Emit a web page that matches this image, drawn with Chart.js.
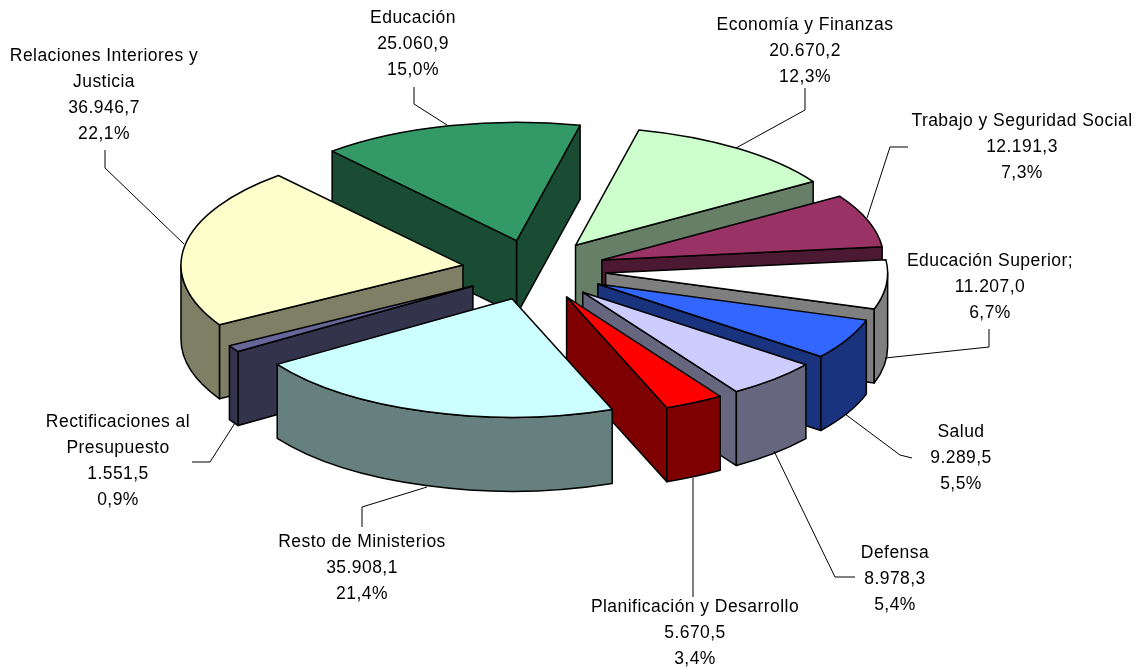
<!DOCTYPE html>
<html>
<head>
<meta charset="utf-8">
<style>
  html, body { margin: 0; padding: 0; background: #fff; }
  canvas { display: block; }
</style>
<script src="https://cdn.jsdelivr.net/npm/chart.js"></script>
</head>
<body>
<canvas id="myChart" width="1138" height="668"></canvas>
<script>
// Data, clockwise from the Economía slice
const categories = [
  ["Economía y Finanzas"],
  ["Trabajo y Seguridad Social"],
  ["Educación Superior;"],
  ["Salud"],
  ["Defensa"],
  ["Planificación y Desarrollo"],
  ["Resto de Ministerios"],
  ["Rectificaciones al", "Presupuesto"],
  ["Relaciones Interiores y", "Justicia"],
  ["Educación"]
];
const values = [20670.2, 12191.3, 11207.0, 9289.5, 8978.3, 5670.5, 35908.1, 1551.5, 36946.7, 25060.9];
const colors = ["#CCFFCC", "#993366", "#FFFFFF", "#3366FF", "#CCCCFF", "#FF0000", "#CCFFFF", "#666699", "#FFFFCC", "#339966"];

// Label layout: centre x, y of first line, leader polyline
const labelX = [805, 1022, 990, 961, 895, 695, 362, 118, 104, 413];
const labelY = [25, 121, 261, 432, 553, 607, 542, 422, 56, 18];
const leaders = [
  [[805, 88], [805, 110], [736, 148]],
  [[908, 147], [890, 147], [867, 218]],
  [[989, 329], [989, 347], [885, 358]],
  [[912, 458], [900, 455], [845, 414]],
  [[855, 577], [835, 577], [774, 451]],
  [[693, 597], [693, 478]],
  [[362, 527], [362, 507], [427, 487]],
  [[192, 462], [210, 462], [235, 423]],
  [[105, 150], [105, 168], [184, 244]],
  [[414, 87], [414, 104], [447, 125]]
];

const LINE_H = 26.2;
const SQUASH = 0.42;   // vertical tilt of the pie
const DEPTH = 74;      // height of the extrusion
const EXPLODE = 72;    // how far slices are pulled out
const CENTER_Y = 270;

const total = values.reduce((a, b) => a + b, 0);
const TAU = Math.PI * 2;

function darken(hex) {
  const n = parseInt(hex.slice(1), 16);
  const r = (n >> 16) >> 1, g = ((n >> 8) & 255) >> 1, b = (n & 255) >> 1;
  return "rgb(" + r + "," + g + "," + b + ")";
}

// Draw the pie as a tilted solid, using the angles the controller worked out
const pie3d = {
  id: "pie3d",
  beforeDatasetsDraw(chart) {
    const ctx = chart.ctx;
    const elements = chart.getDatasetMeta(0).data;
    const bisect = (a) => (a.startAngle + a.endAngle) / 2;
    const arcs = elements.slice().sort((p, q) => Math.sin(bisect(p)) - Math.sin(bisect(q)));

    arcs.forEach((arc) => {
      const i = elements.indexOf(arc);
      const h = bisect(arc);
      const r = arc.outerRadius;
      const a0 = arc.startAngle, a1 = arc.endAngle;
      const ox = arc.x + Math.cos(h) * EXPLODE;
      const oy = CENTER_Y + Math.sin(h) * EXPLODE * SQUASH;
      const rimX = (a) => ox + Math.cos(a) * r;
      const rimY = (a) => oy + Math.sin(a) * r * SQUASH;

      ctx.save();
      ctx.lineWidth = 1.5;
      ctx.lineJoin = "round";
      ctx.strokeStyle = "#000";
      ctx.fillStyle = darken(colors[i]);

      // cut faces, only the ones turned towards the viewer
      [a0, a1].forEach((a, side) => {
        const visible = side === 0 ? Math.cos(a) < 0 : Math.cos(a) > 0;
        if (!visible) return;
        ctx.beginPath();
        ctx.moveTo(ox, oy);
        ctx.lineTo(rimX(a), rimY(a));
        ctx.lineTo(rimX(a), rimY(a) + DEPTH);
        ctx.lineTo(ox, oy + DEPTH);
        ctx.closePath();
        ctx.fill();
        ctx.stroke();
      });

      // outer wall, front half of the rim
      for (let n = -1; n <= 2; n++) {
        const lo = Math.max(a0, TAU * n);
        const hi = Math.min(a1, Math.PI + TAU * n);
        if (hi <= lo) continue;
        ctx.beginPath();
        ctx.ellipse(ox, oy, r, r * SQUASH, 0, lo, hi);
        ctx.ellipse(ox, oy + DEPTH, r, r * SQUASH, 0, hi, lo, true);
        ctx.closePath();
        ctx.fill();
        ctx.stroke();
      }

      // top face
      ctx.fillStyle = arc.options.backgroundColor;
      ctx.beginPath();
      ctx.moveTo(ox, oy);
      ctx.ellipse(ox, oy, r, r * SQUASH, 0, a0, a1);
      ctx.closePath();
      ctx.fill();
      ctx.stroke();
      ctx.restore();
    });
    return false;
  },
  afterDraw(chart) {
    const ctx = chart.ctx;
    ctx.save();
    ctx.strokeStyle = "#000";
    ctx.lineWidth = 1;
    leaders.forEach((pts) => {
      ctx.beginPath();
      pts.forEach((p, k) => (k ? ctx.lineTo(p[0], p[1]) : ctx.moveTo(p[0], p[1])));
      ctx.stroke();
    });
    ctx.fillStyle = "#000";
    ctx.font = "17.5px 'Liberation Sans'";
    ctx.letterSpacing = "0.45px";
    ctx.textAlign = "center";
    ctx.textBaseline = "middle";
    categories.forEach((name, i) => {
      const pct = (values[i] / total * 100).toFixed(1).replace(".", ",") + "%";
      const num = values[i].toLocaleString("de-DE", { minimumFractionDigits: 1, maximumFractionDigits: 1 });
      name.concat([num, pct]).forEach((line, k) => {
        ctx.fillText(line, labelX[i], labelY[i] + k * LINE_H);
      });
    });
    ctx.restore();
  }
};

new Chart(document.getElementById("myChart"), {
  type: "pie",
  data: {
    labels: categories.map((c) => c.join(" ")),
    datasets: [{
      data: values,
      backgroundColor: colors,
      borderWidth: 0,
      radius: 282
    }]
  },
  options: {
    responsive: false,
    animation: false,
    rotation: 13,
    layout: { padding: { left: 0, right: 70, top: 0, bottom: 0 } },
    plugins: { legend: { display: false }, tooltip: { enabled: false } }
  },
  plugins: [pie3d]
});
</script>
</body>
</html>
